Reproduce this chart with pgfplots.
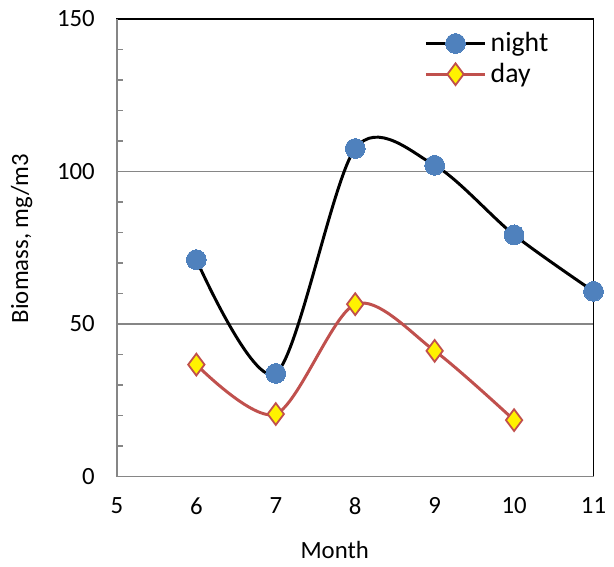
\documentclass[border=0pt]{standalone}
\usepackage{pgfplots}
\pgfplotsset{compat=1.18}
\usepackage{fontspec}
\setmainfont{Carlito}
\definecolor{exblue}{HTML}{4F81BD}
\definecolor{exred}{HTML}{C0504D}
\definecolor{exgray}{HTML}{868686}
\begin{document}
\fontsize{12}{14}\selectfont
\begin{tikzpicture}
\begin{axis}[
  name=ax,
  scale only axis,
  width=240.5pt, height=231pt,
  xmin=5, xmax=11, ymin=0, ymax=150,
  xtick={5,6,7,8,9,10,11},
  ytick={0,50,100,150},
  minor y tick num=4,
  ytick pos=left,
  tick align=inside,
  xtick style={draw=none},
  ytick style={exgray, line width=0.8pt},
  major tick length=3pt, minor tick length=3pt,
  ymajorgrids,
  grid style={exgray, line width=0.8pt},
  axis line style={black, line width=0.8pt},
  /pgf/number format/assume math mode=true,
  tick label style={font=\fontsize{12.5}{15}\selectfont},
  xticklabel style={yshift=-6.5pt},
  yticklabel style={xshift=-7pt},
  xlabel={Month},
  ylabel={Biomass, mg/m3},
  label style={font=\fontsize{12.5}{15}\selectfont},
  xlabel style={at={(rel axis cs:0.457,-0.16)}, anchor=center},
  ylabel style={at={(rel axis cs:-0.2,0.52)}, anchor=center},
  clip=false,
  legend style={at={(rel axis cs:0.64,0.985)}, anchor=north west, draw=none, fill=none,
    font=\fontsize{14}{16}\selectfont, row sep=0pt, inner sep=1pt},
  legend cell align=left,
  legend image code/.code={\draw[mark repeat=2,mark phase=2] plot coordinates {(0pt,0pt) (15pt,0pt) (30pt,0pt)};},
]
\draw[exgray, line width=0.8pt] (rel axis cs:0,1) -- (rel axis cs:0,0) -- (rel axis cs:1,0);
\addplot[black, line width=1.5pt, smooth, mark=*, mark size=5pt,
  mark options={fill=exblue, draw=exblue, line width=0pt}]
  coordinates {(6,71.1) (7,33.8) (8,107.5) (9,102) (10,79.2) (11,60.7)};
\addlegendentry{night}
\addplot[exred, line width=1.5pt, smooth, mark=diamond*, mark size=5.5pt,
  mark options={fill=yellow, draw=exred, line width=0.9pt}]
  coordinates {(6,36.7) (7,20.5) (8,56.5) (9,41.2) (10,18.5)};
\addlegendentry{day}
\end{axis}
\path (ax.south west) ++(-59pt,-40pt) (ax.north east) ++(7.5pt,9.5pt);
\end{tikzpicture}
\end{document}
